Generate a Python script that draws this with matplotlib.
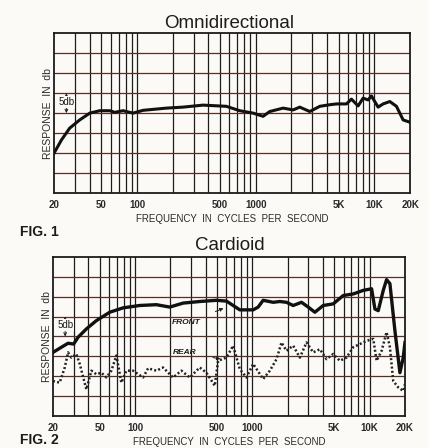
import numpy as np
import matplotlib.pyplot as plt

plt.rcParams['font.family'] = ['Liberation Sans', 'DejaVu Sans']

# Omnidirectional response (Hz, dB)
omni_f = [20, 23.1, 27.1, 32.9, 40, 48.5, 58.9, 64.9, 76.3, 92.6, 112.5, 176.8, 244,
          360, 566, 734, 951, 1154, 1313, 1701, 2065, 2350, 2854, 3466, 4209, 4789,
          5813, 6406, 7292, 8035, 8853, 9443, 10745, 11842, 13485, 15346, 17460, 20000]
omni_db = [10, 13.3, 16.25, 18.3, 20, 20.6, 20.6, 20.2, 20.6, 20, 20.7, 21.25, 21.5,
           22, 21.7, 20.6, 20, 19.2, 20.4, 21.25, 20.8, 21.5, 20.4, 21.7, 22.1, 22.3,
           22.3, 23.5, 21.8, 23.75, 23.3, 24.3, 21.5, 22.3, 22.9, 21.7, 18.3, 17.7]

# Cardioid front response
front_f = [20, 23.6, 26.9, 30.0, 32.7, 38.5, 46.9, 60.9, 79.1, 109.7, 152.2, 197.8, 257,
           356.6, 494.6, 601.8, 686, 782, 1017, 1121, 1236, 1505, 1716, 1955, 2229, 2625,
           2993, 3412, 4021, 4888, 5955, 7247, 8815, 10390, 11090, 11835, 13060, 13940,
           14880, 16410, 18110, 19330, 20000]
front_db = [16.0, 17.3, 18.3, 18.1, 19.8, 21.9, 24.0, 26.1, 27.2, 27.8, 28.0, 27.4, 28.4,
            28.8, 29.1, 28.9, 27.8, 26.7, 26.7, 27.4, 29.1, 28.6, 28.8, 28.6, 27.8, 28.6,
            27.4, 26.1, 27.8, 28.2, 30.3, 30.7, 31.6, 32.0, 26.9, 26.5, 31.6, 34.3,
            33.3, 21.5, 10.9, 14.7, 18.5]

# Cardioid rear response
rear_f = [20, 22.8, 25.2, 26.9, 28.7, 31.6, 33.8, 38.5, 42.5, 46.9, 51.7, 57.0, 62.9, 69.4,
          76.5, 84.5, 96.2, 117.2, 129.3, 152.2, 173.5, 211, 248.8, 293, 356.6, 406, 478.6,
          511, 601.8, 686, 782, 891, 1017, 1236, 1410, 1608, 1774, 1955, 2229, 2541, 2897,
          3302, 3765, 4292, 4888, 5573, 6355, 7247, 8260, 9417, 10735, 11460, 12640, 13940,
          14880, 15890, 17520, 19330, 20000]
rear_db = [8.8, 8.4, 12.2, 16.0, 14.7, 15.6, 13.1, 6.7, 11.4, 10.5, 10.9, 9.7, 11.4, 15.2,
           8.4, 11.4, 11.4, 9.7, 12.0, 11.4, 12.2, 9.7, 11.4, 9.7, 12.2, 10.9, 7.6,
           13.9, 14.7, 17.7, 11.8, 9.7, 13.1, 9.3, 11.4, 14.3, 18.5, 16.4, 17.7, 14.7, 18.5,
           16.0, 16.8, 14.3, 15.6, 13.9, 14.7, 17.3, 18.1, 18.9, 19.4, 13.9, 16.4, 21.1,
           17.3, 8.8, 7.2, 6.3, 8.0]

tick_vals = [20, 50, 100, 500, 1000, 5000, 10000, 20000]
tick_labels = ['20', '50', '100', '500', '1000', '5K', '10K', '20K']

grid_f = ([30, 40, 50, 60, 70, 80, 90, 100] + list(range(200, 1001, 100))
          + list(range(2000, 10001, 1000)))

bg = '#fbfaf6'
ink = '#1c1c1c'
fig = plt.figure(figsize=(4.29, 4.48), dpi=100, facecolor=bg)


def setup(ax, title, title_y):
    ax.set_facecolor(bg)
    ax.set_xscale('log')
    ax.set_xlim(20, 20000)
    ax.set_ylim(0, 40)
    for f in grid_f:
        ax.axvline(f, color=ink, lw=0.9, zorder=1)
    for y in range(5, 40, 5):
        ax.axhline(y, color='#5a2e26', lw=0.9, zorder=1)
    for s in ax.spines.values():
        s.set_linewidth(1.3)
        s.set_color(ink)
    ax.set_yticks([])
    ax.set_xticks(tick_vals)
    ax.set_xticklabels(tick_labels, fontweight='bold')
    ax.minorticks_off()
    ax.tick_params(axis='x', length=0, pad=5, labelsize=7, colors='#2a2a2a')
    ax.set_xlabel('FREQUENCY  IN  CYCLES  PER  SECOND', fontsize=7, color='#2a2a2a',
                  labelpad=3)
    ax.set_ylabel('RESPONSE  IN  db', fontsize=7.5, color='#2a2a2a', labelpad=1)
    fig.text(0.535, title_y, title, fontsize=13.5, ha='center', va='center', color=ink)
    # 5 db marker
    ax.annotate('', xy=(25.4, 25), xytext=(25.4, 20),
                arrowprops=dict(arrowstyle='<->', lw=0.7, color=ink,
                                shrinkA=0, shrinkB=0, mutation_scale=5), zorder=3)
    ax.text(25.4, 22.8, '5db', fontsize=7, ha='center', va='center', color=ink,
            bbox=dict(facecolor=bg, edgecolor='none', pad=0.6), zorder=4)


ax1 = fig.add_axes([0.126, 0.569, 0.830, 0.357])
setup(ax1, 'Omnidirectional', 0.948)
ax1.plot(omni_f, omni_db, color='#111', lw=2.2, zorder=5)

ax2 = fig.add_axes([0.1235, 0.0714, 0.8205, 0.355])
setup(ax2, 'Cardioid', 0.451)
ax2.plot(front_f, front_db, color='#111', lw=2.4, zorder=5)
ax2.plot(rear_f, rear_db, color='#222', lw=1.8, ls=(0, (0.8, 0.9)), zorder=5)

ax2.annotate('FRONT', xy=(582, 27.2), xytext=(276, 23.4), fontsize=6, style='italic',
             fontweight='bold', ha='center', va='center', color=ink,
             arrowprops=dict(arrowstyle='-|>', lw=0.7, color=ink, ls='--',
                             mutation_scale=5, shrinkA=10, shrinkB=1), zorder=6)
ax2.annotate('REAR', xy=(549, 14.3), xytext=(265, 16.0), fontsize=6, style='italic',
             fontweight='bold', ha='center', va='center', color=ink,
             arrowprops=dict(arrowstyle='-|>', lw=0.7, color=ink,
                             mutation_scale=5, shrinkA=10, shrinkB=1), zorder=6)

fig.text(0.047, 0.482, 'FIG. 1', fontsize=10, fontweight='bold', va='center', color=ink)
fig.text(0.047, 0.002, 'FIG. 2', fontsize=10, fontweight='bold', va='bottom', color=ink)

fig.savefig('out.png', dpi=100, facecolor=bg)
